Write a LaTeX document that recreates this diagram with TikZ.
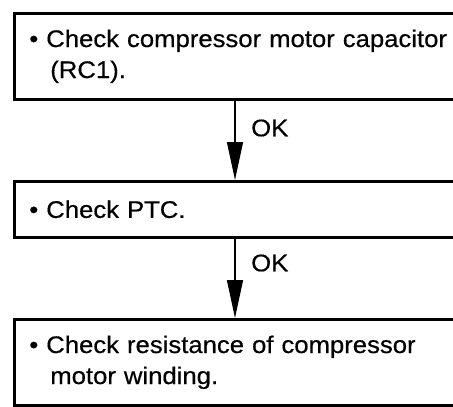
\documentclass[tikz,border=0pt]{standalone}
\usepackage{fontspec}
\setmainfont{Liberation Sans}[FakeStretch=1.07,FakeBold=0.5]
\usetikzlibrary{arrows.meta}
\begin{document}
\begin{tikzpicture}[x=1pt,y=-1pt,
  box/.style={draw, line width=2.6pt, anchor=north west, text width=430pt, inner xsep=15pt,
    align=left, minimum width=460pt, font=\fontsize{24}{31}\selectfont},
  arr/.style={line width=1.3pt, -{Triangle[length=38pt,width=16pt]}},
  oklab/.style={anchor=west, inner sep=0pt, font=\fontsize{24}{28}\selectfont}]
\useasboundingbox (0,0) rectangle (453,407);
\clip (0,0) rectangle (453,407);
\fill[white] (0,0) rectangle (453,407);
\node[box, minimum height=86pt] (b1) at (13,12)
  {\textbullet\ Check compressor motor capacitor\\\hspace*{21pt}(RC1).};
\node[box, minimum height=56pt] (b2) at (13,180)
  {\textbullet\ Check PTC.};
\node[box, minimum height=86pt] (b3) at (13,318)
  {\textbullet\ Check resistance of compressor\\\hspace*{21pt}motor winding.};
\coordinate (ax) at (235,0);
\draw[arr] (ax |- b1.south) -- (ax |- b2.north);
\draw[arr] (ax |- b2.south) -- (ax |- b3.north);
\node[oklab] (ok1) at (251,128) {OK};
\node[oklab] (ok2) at (251,263) {OK};
\end{tikzpicture}
\end{document}
